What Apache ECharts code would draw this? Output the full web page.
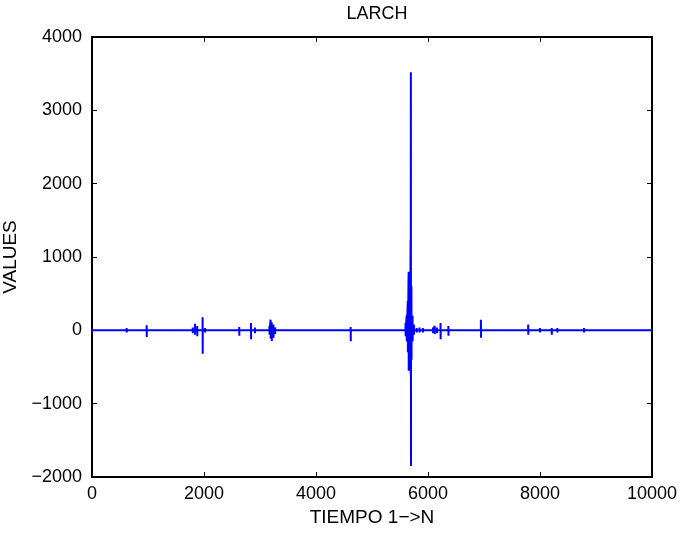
<!DOCTYPE html>
<html>
<head>
<meta charset="utf-8">
<script src="https://cdn.jsdelivr.net/npm/echarts@6/dist/echarts.min.js"></script>
<style>
  html, body { margin: 0; padding: 0; background: #fff; }
  #chart { width: 684px; height: 545px; }
</style>
</head>
<body>
<div id="chart"></div>
<script>
// spikes: time, top value, bottom value (baseline is 0)
var tPico   = [268, 620, 798, 977, 1160, 1220, 1800, 1840, 1880, 1976, 2018,
               2630, 2840, 2910, 3170, 3190, 3210, 3240, 3270, 3480,
               4300, 4620, 4714, 5200,
               5600, 5620, 5640, 5655, 5665, 5680, 5690, 5695, 5705, 5725, 5750,
               5800, 5850, 5910, 6090, 6120, 6160, 6225, 6365, 6510, 6690, 6810, 6946,
               7790, 8000, 8060, 8210, 8310, 8520, 8786, 8950, 9290, 9480, 9710, 9890];
var maxPico = [20, 30, 15, 70, 15, 15, 40, 90, 60, 180, 30,
               45, 100, 40, 60, 145, 110, 80, 40, 15,
               15, 45, 15, 20,
               100, 200, 400, 800, 750, 500, 1230, 3520, 600, 200, 80,
               30, 40, 30, 40, 60, 40, 100, 60, 15, 15, 20, 145,
               80, 30, 15, 30, 30, 15, 30, 15, 15, 15, 15, 15];
var minPico = [-20, -30, -15, -90, -15, -15, -40, -60, -80, -320, -30,
               -75, -120, -40, -60, -110, -145, -100, -50, -15,
               -15, -150, -15, -20,
               -80, -150, -300, -550, -500, -450, -600, -1850, -400, -150, -60,
               -30, -30, -30, -40, -50, -40, -120, -75, -15, -15, -20, -100,
               -60, -30, -15, -60, -30, -15, -30, -15, -15, -15, -15, -15];
var xTicks = [0, 2000, 4000, 6000, 8000, 10000];
var yTicks = [-2000, -1000, 0, 1000, 2000, 3000, 4000];

var dom = document.getElementById('chart');
var myChart = echarts.init(dom);

var serie = [[0, 0]];
for (var i = 0; i < tPico.length; i++) {
    var t = tPico[i];
    serie.push([t - 2, 0]);
    serie.push([t - 1, maxPico[i]]);
    serie.push([t + 1, minPico[i]]);
    serie.push([t + 2, 0]);
}
serie.push([10000, 0]);

var font = 'Liberation Sans, Arial, sans-serif';
function menos(v) { return String(v).replace('-', '\u2212'); }

var ejeX = {
    type: 'value', min: xTicks[0], max: xTicks[xTicks.length - 1], interval: 2000,
    splitLine: {show: false},
    axisLine: {show: true, onZero: false, lineStyle: {color: '#000', width: 2}},
    axisTick: {show: true, inside: true, length: 5, lineStyle: {color: '#000', width: 1}}
};
var ejeY = {
    type: 'value', min: yTicks[0], max: yTicks[yTicks.length - 1], interval: 1000,
    splitLine: {show: false},
    axisLine: {show: true, onZero: false, lineStyle: {color: '#000', width: 2}},
    axisTick: {show: true, inside: true, length: 5, lineStyle: {color: '#000', width: 1}}
};

var option = {
    animation: false,
    backgroundColor: '#fff',
    title: {
        text: 'LARCH',
        left: 372, top: 0,
        textAlign: 'center',
        textStyle: {fontFamily: font, fontSize: 18, fontWeight: 'normal', color: '#000'}
    },
    grid: {left: 92, right: 32, top: 37, bottom: 68, containLabel: false, outerBoundsMode: 'none'},
    xAxis: [
        Object.assign({}, ejeX, {
            position: 'bottom',
            name: 'TIEMPO 1\u2212>N', nameLocation: 'middle', nameGap: 30,
            nameTextStyle: {fontFamily: font, fontSize: 19, color: '#000'},
            axisLabel: {margin: 8, fontFamily: font, fontSize: 18, color: '#000', formatter: menos}
        }),
        Object.assign({}, ejeX, {position: 'top', axisLabel: {show: false}})
    ],
    yAxis: [
        Object.assign({}, ejeY, {
            position: 'left',
            name: 'VALUES', nameLocation: 'middle', nameGap: 66, nameRotate: 90,
            nameTextStyle: {fontFamily: font, fontSize: 19, color: '#000'},
            axisLabel: {margin: 10, fontFamily: font, fontSize: 18, color: '#000', formatter: menos}
        }),
        Object.assign({}, ejeY, {position: 'right', axisLabel: {show: false}})
    ],
    series: [{
        type: 'line',
        data: serie,
        showSymbol: false,
        symbol: 'none',
        sampling: null,
        lineStyle: {color: '#0000ff', width: 2},
        itemStyle: {color: '#0000ff'}
    }]
};
myChart.setOption(option);
</script>
</body>
</html>
